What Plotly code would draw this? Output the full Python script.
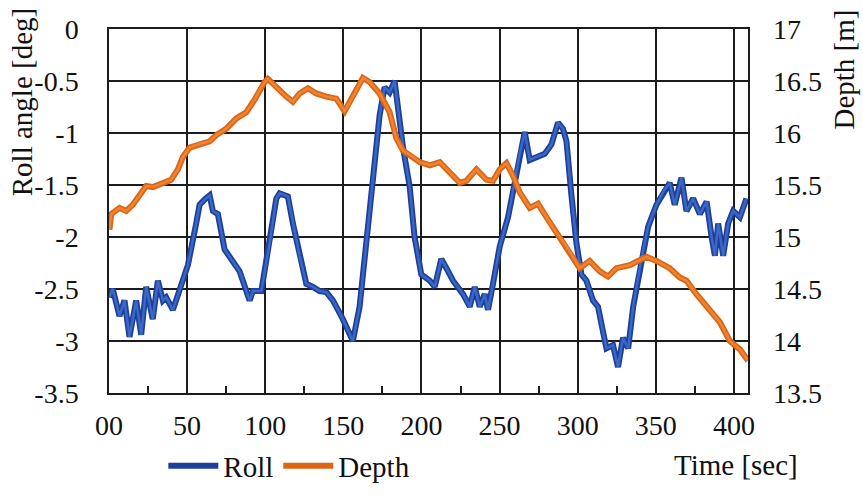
import plotly.graph_objects as go

# ---- data ----
roll_t = [0.3, 2.4, 6.7, 9.9, 13.1, 17.4, 20.6, 23.8, 28, 31.3, 34.5, 36.6, 40.9, 45.1,
          50.5, 55.8, 58, 61.2, 64.4, 66.5, 69.7, 74, 78.3, 83.6, 90, 92.1, 97.5, 102.8,
          107.1, 109.2, 114.5, 117.7, 122, 126.3, 130.5, 134.8, 139.1, 143.3, 149.7, 156.1,
          160.4, 164.7, 169, 173.2, 176.4, 179.6, 182.8, 185, 188.2, 192.4, 195.6, 199.9,
          205.3, 208.5, 212.7, 216, 220.2, 226.6, 230.9, 234.1, 237.3, 240.5, 242.6, 245.8,
          250.1, 255.4, 259.7, 262.9, 266.1, 269.3, 273.6, 278.9, 283.2, 287.4, 290.6, 292.8,
          296, 299.2, 302.4, 305.6, 309.8, 313, 316.2, 318.4, 322.6, 325.8, 329, 332.3,
          335.5, 340.8, 345.1, 350.4, 355.7, 358.9, 362.1, 366.4, 369.6, 373.9, 378.2,
          382.5, 385.7, 387.8, 389.9, 393.1, 396.3, 399.5, 403.8, 408]
roll_v = [-2.58, -2.50, -2.76, -2.61, -2.96, -2.61, -2.94, -2.48, -2.79, -2.42, -2.61, -2.58,
          -2.70, -2.51, -2.27, -1.87, -1.69, -1.64, -1.60, -1.75, -1.78, -2.12, -2.21, -2.33,
          -2.61, -2.52, -2.52, -2.06, -1.63, -1.58, -1.61, -1.87, -2.18, -2.45, -2.48, -2.52,
          -2.53, -2.61, -2.79, -3.00, -2.67, -2.06, -1.45, -0.83, -0.56, -0.61, -0.50, -0.77,
          -1.14, -1.51, -2.00, -2.36, -2.42, -2.48, -2.21, -2.30, -2.42, -2.55, -2.67, -2.48,
          -2.67, -2.55, -2.70, -2.45, -2.09, -1.81, -1.45, -1.20, -0.99, -1.26, -1.23, -1.20,
          -1.11, -0.90, -0.96, -1.08, -1.60, -2.06, -2.36, -2.42, -2.61, -2.67, -2.91, -3.07,
          -3.04, -3.25, -2.97, -3.07, -2.67, -2.21, -1.90, -1.69, -1.54, -1.48, -1.69, -1.43,
          -1.75, -1.63, -1.78, -1.66, -2.00, -2.18, -1.87, -2.18, -1.87, -1.75, -1.81, -1.63]

depth_t = [0.3, 1.4, 6.7, 11, 15.2, 19.5, 23.8, 28, 34.5, 39.8, 44.1, 47.3, 51.6, 56.9, 64.4,
           68.7, 75, 81.5, 87.9, 93.2, 96.4, 99.6, 101.7, 104.9, 109.2, 113.5, 117.7, 122,
           127.3, 132.7, 139.1, 145.5, 150.8, 156.1, 162.5, 166.8, 173.2, 179.6, 183.9, 188.2,
           193.5, 198.9, 205.3, 211.7, 218.1, 224.5, 228.8, 235.2, 241.6, 245.8, 250.1, 254.4,
           258.6, 262.9, 269.3, 274.6, 280, 286.4, 292.8, 297.1, 301.3, 307.7, 314.1, 319.4,
           324.8, 333.3, 344, 350.4, 358.9, 365.3, 369.6, 376, 382.5, 391, 397.4, 403.8, 409]
depth_v = [15.07, 15.22, 15.28, 15.25, 15.31, 15.40, 15.49, 15.48, 15.52, 15.55, 15.65, 15.77,
           15.86, 15.89, 15.92, 15.98, 16.04, 16.14, 16.20, 16.32, 16.41, 16.49, 16.52, 16.47,
           16.41, 16.35, 16.30, 16.38, 16.43, 16.38, 16.35, 16.33, 16.21, 16.35, 16.53, 16.49,
           16.38, 16.20, 15.95, 15.83, 15.78, 15.72, 15.69, 15.72, 15.62, 15.52, 15.54, 15.65,
           15.55, 15.54, 15.65, 15.71, 15.59, 15.43, 15.28, 15.32, 15.19, 15.04, 14.91, 14.81,
           14.70, 14.77, 14.67, 14.62, 14.70, 14.73, 14.81, 14.77, 14.70, 14.61, 14.58, 14.45,
           14.33, 14.18, 14.00, 13.92, 13.81]

x_ticks = [0, 50, 100, 150, 200, 250, 300, 350, 400]
x_ticktext = ["00", "50", "100", "150", "200", "250", "300", "350", "400"]
y_ticks = [0, -0.5, -1, -1.5, -2, -2.5, -3, -3.5]
y_ticktext = ["0", "-0.5", "-1", "-1.5", "-2", "-2.5", "-3", "-3.5"]
y2_ticks = [17, 16.5, 16, 15.5, 15, 14.5, 14, 13.5]
y2_ticktext = ["17", "16.5", "16", "15.5", "15", "14.5", "14", "13.5"]

FONT = "'Liberation Serif', 'Times New Roman', Times, serif"
FS = 29
TFS = 28
BLUE_EDGE = "#1E409C"
BLUE_CORE = "#3A68C4"
ORANGE_EDGE = "#DC6614"
ORANGE_CORE = "#EE8434"
GRID = "#1c1c1c"

fig = go.Figure()
fig.add_trace(go.Scatter(x=roll_t, y=roll_v, mode="lines", name="Roll",
                         line=dict(color=BLUE_EDGE, width=6)))
fig.add_trace(go.Scatter(x=roll_t, y=roll_v, mode="lines", name="Roll", showlegend=False,
                         hoverinfo="skip", line=dict(color=BLUE_CORE, width=2.5)))
fig.add_trace(go.Scatter(x=depth_t, y=depth_v, mode="lines", name="Depth", yaxis="y2",
                         line=dict(color=ORANGE_EDGE, width=6)))
fig.add_trace(go.Scatter(x=depth_t, y=depth_v, mode="lines", name="Depth", yaxis="y2",
                         showlegend=False, hoverinfo="skip",
                         line=dict(color=ORANGE_CORE, width=2.5)))

fig.update_layout(
    width=863, height=503,
    margin=dict(l=109, r=115, t=29, b=92),
    paper_bgcolor="white", plot_bgcolor="white",
    font=dict(family=FONT, size=FS, color="#111"),
    xaxis=dict(range=[0, 409], tickvals=x_ticks, ticktext=x_ticktext,
               showgrid=True, gridcolor=GRID, gridwidth=1.5,
               showline=True, linecolor=GRID, linewidth=1.5, mirror=True,
               ticks="", ticklabelstandoff=7, zeroline=False,
               tickfont=dict(family=FONT, size=TFS),
               minor=dict(ticks="inside", ticklen=7, tickcolor=GRID, tickwidth=1.5,
                          tick0=25, dtick=50, showgrid=False)),
    yaxis=dict(range=[-3.5, 0], tickvals=y_ticks, ticktext=y_ticktext,
               showgrid=True, gridcolor=GRID, gridwidth=1.5,
               showline=True, linecolor=GRID, linewidth=1.5, mirror=True,
               ticks="", ticklabelstandoff=23, zeroline=False,
               tickfont=dict(family=FONT, size=TFS)),
    yaxis2=dict(range=[13.5, 17], tickvals=y2_ticks, ticktext=y2_ticktext,
                overlaying="y", side="right", showgrid=False, zeroline=False,
                showline=False, ticks="", ticklabelstandoff=24,
                tickfont=dict(family=FONT, size=TFS)),
    showlegend=True,
    legend=dict(orientation="h", x=0.085, y=-0.2, xanchor="left", yanchor="middle",
                font=dict(family=FONT, size=FS), bgcolor="rgba(0,0,0,0)",
                itemwidth=50, tracegroupgap=0),
    annotations=[
        dict(text="Roll angle [deg]", textangle=-90, xref="paper", yref="paper",
             x=-0.137, y=0.8, xanchor="center", yanchor="middle", showarrow=False,
             font=dict(family=FONT, size=FS)),
        dict(text="Depth [m]", textangle=-90, xref="paper", yref="paper",
             x=1.151, y=0.89, xanchor="center", yanchor="middle", showarrow=False,
             font=dict(family=FONT, size=FS)),
        dict(text="Time [sec]", xref="paper", yref="paper",
             x=0.981, y=-0.197, xanchor="center", yanchor="middle", showarrow=False,
             font=dict(family=FONT, size=FS)),
    ],
)

fig.write_html("out.html")
